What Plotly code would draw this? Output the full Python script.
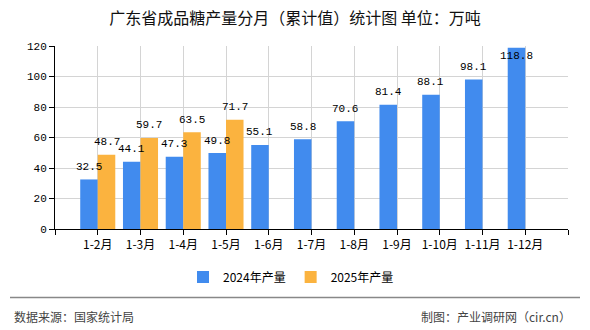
import plotly.graph_objects as go

categories = ["1-2月", "1-3月", "1-4月", "1-5月", "1-6月", "1-7月", "1-8月",
              "1-9月", "1-10月", "1-11月", "1-12月"]
values_2024 = [32.5, 44.1, 47.3, 49.8, 55.1, 58.8, 70.6, 81.4, 88.1, 98.1, 118.8]
values_2025 = [48.7, 59.7, 63.5, 71.7, None, None, None, None, None, None, None]
series_names = ["2024年产量", "2025年产量"]
y_ticks = [0, 20, 40, 60, 80, 100, 120]

title_text = "广东省成品糖产量分月（累计值）统计图 单位：万吨"
source_text = "数据来源：国家统计局"
credit_text = "制图：产业调研网（cir.cn）"

W, H = 590, 330
ML, MR, MT, MB = 55, 22, 46, 101
plot_h = H - MT - MB
plot_w = W - ML - MR
YMAX = 120
BARGAP = 0.18

colors = ["#418bee", "#fbb33f"]
cjk = "Noto Sans CJK SC, Noto Sans, sans-serif"
mono = "Liberation Mono, DejaVu Sans Mono, monospace"

xs = list(range(len(categories)))

fig = go.Figure()
for name, vals, col in zip(series_names, [values_2024, values_2025], colors):
    fig.add_trace(go.Bar(x=xs, y=vals, name=name, marker=dict(color=col, line=dict(width=0))))

# data labels
half = (1 - BARGAP) / 4.0
px_per_unit = plot_h / YMAX
lift = 12.5 / px_per_unit
cap = YMAX - 9.7 / px_per_unit
annotations = []
for k, vals in enumerate([values_2024, values_2025]):
    off = -half if k == 0 else half
    for i, v in enumerate(vals):
        if v is None:
            continue
        annotations.append(dict(
            x=xs[i] + off, y=min(v + lift, cap), xref="x", yref="y",
            text=f"{v:.1f}", showarrow=False, yanchor="middle", xanchor="center",
            font=dict(family=mono, size=11, color="#000000")))

def px_x(p):
    return (p - ML) / plot_w

def px_y(p):
    return (H - MB - p) / plot_h

annotations.append(dict(x=px_x(12), y=px_y(316), xref="paper", yref="paper",
                        text=source_text, showarrow=False, xanchor="left", yanchor="middle",
                        font=dict(family=cjk, size=12, color="#444444")))
annotations.append(dict(x=px_x(573), y=px_y(316), xref="paper", yref="paper",
                        text=credit_text, showarrow=False, xanchor="right", yanchor="middle",
                        font=dict(family=cjk, size=12, color="#444444")))

shapes = [dict(type="line", xref="paper", yref="paper",
               x0=px_x(10), x1=px_x(580), y0=px_y(297.5), y1=px_y(297.5),
               line=dict(color="#888888", width=1.5))]

fig.update_layout(
    width=W, height=H,
    margin=dict(l=ML, r=MR, t=MT, b=MB, pad=0),
    paper_bgcolor="white", plot_bgcolor="white",
    barmode="group", bargap=BARGAP, bargroupgap=0,
    title=dict(text=title_text, x=295 / W, xanchor="center", xref="container",
               y=1 - 18 / H, yanchor="middle", yref="container",
               font=dict(family=cjk, size=16, color="#111111")),
    legend=dict(orientation="h", x=px_x(291), xanchor="center", y=px_y(277), yanchor="middle",
                font=dict(family=cjk, size=12, color="#000000"), itemwidth=30,
                bgcolor="rgba(0,0,0,0)"),
    xaxis=dict(range=[-1, len(categories)], tickmode="array",
               tickvals=list(range(-1, len(categories) + 1)),
               ticktext=[""] + categories + [""],
               showgrid=True, gridcolor="#d4d4d4", gridwidth=1,
               showline=True, linecolor="#000000", linewidth=1,
               ticks="outside", ticklen=5, tickcolor="#000000",
               tickfont=dict(family=cjk, size=12, color="#000000"),
               zeroline=False, fixedrange=True),
    yaxis=dict(range=[0, YMAX], tickmode="array", tickvals=y_ticks,
               showgrid=True, gridcolor="#d4d4d4", gridwidth=1,
               showline=True, linecolor="#000000", linewidth=1,
               ticks="outside", ticklen=5, tickcolor="#000000",
               tickfont=dict(family=mono, size=11, color="#000000"),
               zeroline=False, fixedrange=True),
    annotations=annotations, shapes=shapes,
    showlegend=True,
)

fig.write_html("out.html", config={"displayModeBar": False})
